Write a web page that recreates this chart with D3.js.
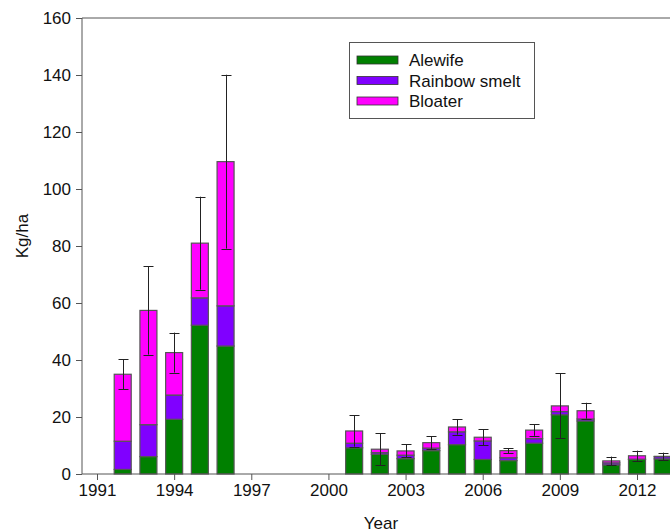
<!DOCTYPE html>
<html>
<head>
<meta charset="utf-8">
<script src="https://cdn.jsdelivr.net/npm/d3@7"></script>
<style>
  body { margin: 0; background: #fff; }
  svg { font-family: "Liberation Sans", Arial, sans-serif; }
</style>
</head>
<body>
<div id="chart"></div>
<script>
// Biomass by year (kg/ha)
const years    = [1992, 1993, 1994, 1995, 1996, 2001, 2002, 2003, 2004, 2005, 2006, 2007, 2008, 2009, 2010, 2011, 2012, 2013];
const alewife  = [1.6, 6.1, 19.2, 52.2, 44.9, 9.2, 6.9, 5.4, 8.2, 10.3, 5.1, 4.7, 10.8, 20.8, 18.6, 3.2, 5.1, 5.3];
const smelt    = [9.9, 11.2, 8.5, 9.6, 14.1, 1.6, 0.6, 1.2, 0.9, 4.5, 6.5, 1.0, 1.6, 1.1, 0.7, 0.7, 0.1, 0.8];
const bloater  = [23.5, 40.1, 14.9, 19.2, 50.6, 4.3, 1.2, 1.5, 1.9, 1.7, 1.3, 2.5, 3.0, 2.0, 2.9, 0.7, 1.2, 0.1];
const errors   = [5.3, 15.5, 7.0, 16.3, 30.5, 5.5, 5.6, 2.3, 2.2, 2.7, 2.8, 0.9, 2.0, 11.4, 2.8, 1.5, 1.8, 1.3];
const seriesNames = ["Alewife", "Rainbow smelt", "Bloater"];
const colors = ["#008000", "#8000FF", "#FF00FF"];
const xTicks = [1991, 1994, 1997, 2000, 2003, 2006, 2009, 2012];
const yTicks = [0, 20, 40, 60, 80, 100, 120, 140, 160];

const width = 670, height = 532;
const plotLeft = 82, plotTop = 18, plotBottom = 474;

const svg = d3.select("#chart").append("svg")
  .attr("width", width)
  .attr("height", height);

const x = d3.scaleLinear().domain([1991, 2012]).range([97, 637]);
const y = d3.scaleLinear().domain([0, 160]).range([plotBottom, plotTop]);
const barW = 17;

const rows = years.map((yr, i) => ({
  year: yr, alewife: alewife[i], smelt: smelt[i], bloater: bloater[i], err: errors[i]
}));
const stack = d3.stack().keys(["alewife", "smelt", "bloater"])(rows);

// bars
svg.append("g")
  .selectAll("g")
  .data(stack)
  .join("g")
  .attr("fill", (d, i) => colors[i])
  .selectAll("rect")
  .data(d => d)
  .join("rect")
  .attr("x", d => x(d.data.year) - barW / 2)
  .attr("y", d => y(d[1]))
  .attr("width", barW)
  .attr("height", d => y(d[0]) - y(d[1]))
  .attr("stroke", "#555")
  .attr("stroke-width", 1.2);

// error bars
const eg = svg.append("g").attr("stroke", "#222").attr("stroke-width", 1);
rows.forEach(d => {
  const tot = d.alewife + d.smelt + d.bloater;
  const cx = Math.round(x(d.year)) + 0.5;
  eg.append("line").attr("x1", cx).attr("x2", cx)
    .attr("y1", y(tot + d.err)).attr("y2", y(Math.max(0, tot - d.err)));
  [tot + d.err, tot - d.err].forEach(v => {
    if (v <= 0) return;
    eg.append("line").attr("x1", cx - 5).attr("x2", cx + 5)
      .attr("y1", Math.round(y(v)) + 0.5).attr("y2", Math.round(y(v)) + 0.5);
  });
});

// axes
const axisColor = "#555";
const yAxis = svg.append("g")
  .attr("transform", `translate(${plotLeft},0)`)
  .call(d3.axisLeft(y).tickValues(yTicks).tickSize(6).tickPadding(5));
const xAxis = svg.append("g")
  .attr("transform", `translate(0,${plotBottom})`)
  .call(d3.axisBottom(x).tickValues(xTicks).tickFormat(d3.format("d")).tickSize(6).tickPadding(4));
[xAxis, yAxis].forEach(a => {
  a.select(".domain").remove();
  a.selectAll("line").attr("stroke", axisColor);
  a.selectAll("text").attr("fill", "#111").style("font-size", "17px");
});
// frame lines
svg.append("line").attr("x1", plotLeft).attr("x2", plotLeft).attr("y1", plotTop).attr("y2", plotBottom).attr("stroke", axisColor);
svg.append("line").attr("x1", plotLeft).attr("x2", width).attr("y1", plotBottom).attr("y2", plotBottom).attr("stroke", axisColor);
svg.append("line").attr("x1", plotLeft).attr("x2", width).attr("y1", plotTop).attr("y2", plotTop).attr("stroke", axisColor);

// axis titles
svg.append("text")
  .attr("x", 381).attr("y", 529)
  .attr("text-anchor", "middle")
  .style("font-size", "17px").attr("fill", "#111")
  .text("Year");
svg.append("text")
  .attr("transform", "translate(28,236) rotate(-90)")
  .attr("text-anchor", "middle")
  .style("font-size", "17px").attr("fill", "#111")
  .text("Kg/ha");

// legend
const lg = svg.append("g");
lg.append("rect")
  .attr("x", 349.5).attr("y", 42.5).attr("width", 185).attr("height", 76)
  .attr("fill", "#fff").attr("stroke", "#555");
seriesNames.forEach((name, i) => {
  const cy = 60 + i * 20.5;
  lg.append("rect")
    .attr("x", 357).attr("y", cy - 4).attr("width", 41).attr("height", 8)
    .attr("fill", colors[i]).attr("stroke", "#333").attr("stroke-width", 0.8);
  lg.append("text")
    .attr("x", 409).attr("y", cy + 6)
    .style("font-size", "17px").attr("fill", "#111")
    .text(name);
});
</script>
</body>
</html>
